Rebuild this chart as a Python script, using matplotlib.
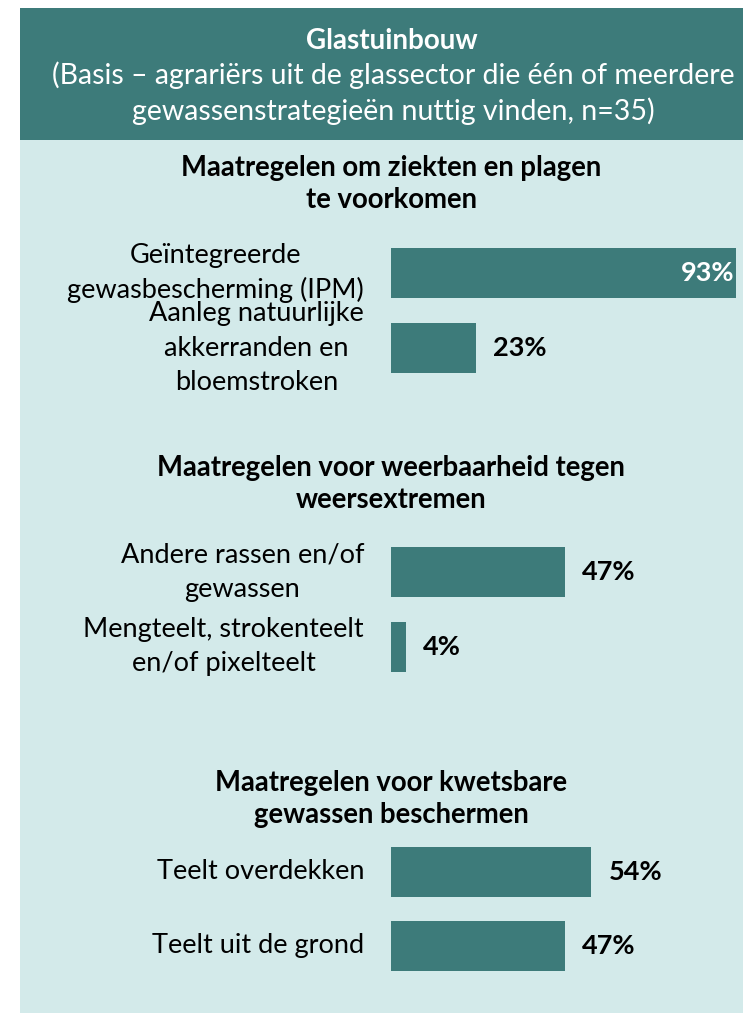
import matplotlib.pyplot as plt
from matplotlib.patches import Rectangle

# data
title = 'Glastuinbouw'
subtitle = ('(Basis – agrariërs uit de glassector die één of meerdere\n'
            'gewassenstrategieën nuttig vinden, n=35)')
groepen = ['Maatregelen om ziekten en plagen\nte voorkomen',
           'Maatregelen voor weerbaarheid tegen\nweersextremen',
           'Maatregelen voor kwetsbare\ngewassen beschermen']
labels = ['Geïntegreerde\ngewasbescherming (IPM)',
          'Aanleg natuurlijke\nakkerranden en\nbloemstroken',
          'Andere rassen en/of\ngewassen',
          'Mengteelt, strokenteelt\nen/of pixelteelt',
          'Teelt overdekken',
          'Teelt uit de grond']
waarden = [93, 23, 47, 4, 54, 47]

# layout (pixels, y from top)
W, H = 743, 1014
bar_y = [273, 348, 572, 647, 871.5, 946]
groep_y = [184, 484, 799]
teal = '#3d7b7a'
licht = '#d3eaea'

plt.rcParams['font.family'] = ['Lato', 'DejaVu Sans']

fig = plt.figure(figsize=(W / 100, H / 100), dpi=100)
fig.patch.set_facecolor('white')

def fx(px):
    return px / W

def fy(py):
    return 1 - py / H

# achtergrondvlakken
fig.add_artist(Rectangle((fx(20), fy(1013)), fx(W) - fx(20), fy(140) - fy(1013),
                         transform=fig.transFigure, facecolor=licht, edgecolor='none',
                         zorder=-2))
fig.add_artist(Rectangle((fx(20), fy(140)), fx(W) - fx(20), fy(8) - fy(140),
                         transform=fig.transFigure, facecolor=teal, edgecolor='none',
                         zorder=-2))

# koptekst
fig.text(fx(392), fy(41), title, ha='center', va='center', color='white',
         fontsize=20, fontweight='bold')
fig.text(fx(393), fy(93), subtitle, ha='center', va='center', color='white',
         fontsize=20.5, linespacing=1.35)

for g, y in zip(groepen, groep_y):
    fig.text(fx(391), fy(y), g, ha='center', va='center', color='black',
             fontsize=19.8, fontweight='bold', linespacing=1.32)

# balken
ax = fig.add_axes([fx(391), 0, 371 / W, 1])
ax.set_zorder(2)
ax.set_xlim(0, 100)
ax.set_ylim(H, 0)
ax.axis('off')
ax.patch.set_visible(False)

ax.barh(bar_y, waarden, height=50, color=teal, edgecolor='none')

for lab, v, y in zip(labels, waarden, bar_y):
    ax.annotate(lab, xy=(0, y), xytext=(-27, 0), textcoords='offset pixels',
                ha='right', va='center', multialignment='center',
                fontsize=19.5, linespacing=1.45, color='black')
    if v > 80:
        ax.annotate(f'{v}%', xy=(v, y), xytext=(-2, 0), textcoords='offset pixels',
                    ha='right', va='center', fontsize=19.5, fontweight='bold', color='white')
    else:
        ax.annotate(f'{v}%', xy=(v, y), xytext=(17, 0), textcoords='offset pixels',
                    ha='left', va='center', fontsize=19.5, fontweight='bold', color='black')

fig.savefig('out.png', dpi=100)
